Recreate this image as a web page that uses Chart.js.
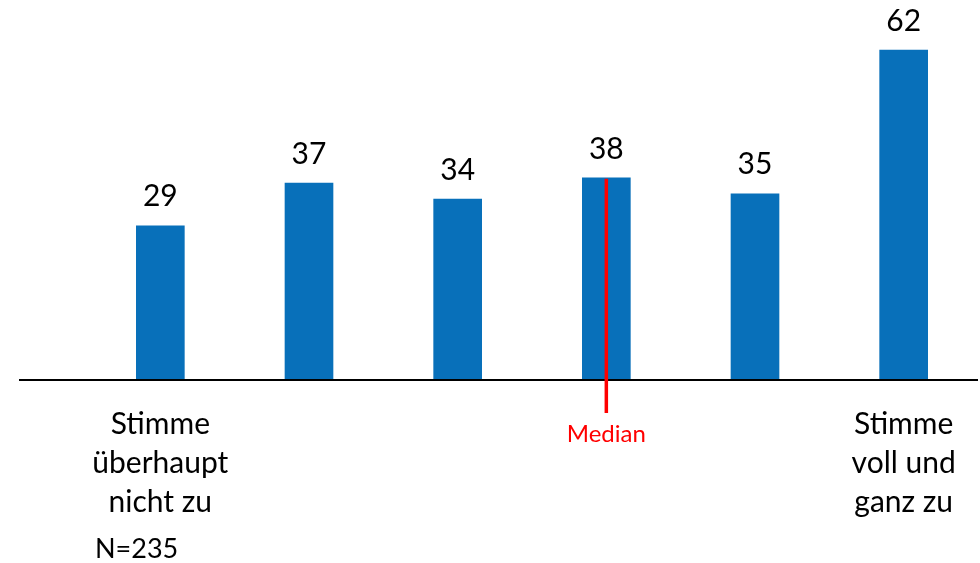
<!DOCTYPE html>
<html>
<head>
<meta charset="utf-8">
<script src="https://cdn.jsdelivr.net/npm/chart.js@4.4.1/dist/chart.umd.min.js"></script>
<style>
  html, body { margin: 0; padding: 0; background: #fff; }
  #wrap { width: 980px; height: 563px; position: relative; }
</style>
</head>
<body>
<div id="wrap"><canvas id="scaleChart" width="980" height="563"></canvas></div>
<script>
// answer scale 1..6, counts per step
const categories = ['1', '2', '3', '4', '5', '6'];
const counts = [29, 37, 34, 38, 35, 62];
// text under the axis, only the two ends are labelled
const categoryLabels = [
  ['Stimme', 'überhaupt', 'nicht zu'],
  [], [], [], [],
  ['Stimme', 'voll und', 'ganz zu']
];
const medianIndex = 3;
const medianLabel = 'Median';
const sampleLabel = 'N=235';

const FONT = 'Lato, "Open Sans", sans-serif';
const ctx = document.getElementById('scaleChart');

const annotations = {
  id: 'annotations',
  afterDatasetsDraw(chart) {
    const c = chart.ctx;
    const x = chart.scales.x;
    const y = chart.scales.y;
    const base = y.getPixelForValue(0);

    // baseline runs further left than the plot area
    c.save();
    c.strokeStyle = '#000';
    c.lineWidth = 2;
    c.beginPath();
    c.moveTo(19, base);
    c.lineTo(978, base);
    c.stroke();

    // value above each bar
    c.fillStyle = '#000';
    c.font = '30px ' + FONT;
    c.textAlign = 'center';
    c.textBaseline = 'middle';
    counts.forEach((v, i) => {
      c.fillText(String(v), x.getPixelForValue(i), y.getPixelForValue(v) - 29);
    });

    // end labels under the axis
    categoryLabels.forEach((lines, i) => {
      lines.forEach((t, k) => {
        c.fillText(t, x.getPixelForValue(i), 424 + k * 39);
      });
    });

    // median marker
    const mx = x.getPixelForValue(medianIndex);
    c.strokeStyle = '#FF0000';
    c.lineWidth = 3.5;
    c.beginPath();
    c.moveTo(mx, y.getPixelForValue(counts[medianIndex]) + 1);
    c.lineTo(mx, 413);
    c.stroke();
    c.fillStyle = '#FF0000';
    c.font = '24px ' + FONT;
    c.fillText(medianLabel, mx, 434);

    c.fillStyle = '#000';
    c.font = '27px ' + FONT;
    c.textAlign = 'left';
    c.fillText(sampleLabel, 95, 549);
    c.restore();
  }
};

new Chart(ctx, {
  type: 'bar',
  data: {
    labels: categories,
    datasets: [{
      data: counts,
      backgroundColor: '#0870BA',
      borderWidth: 0,
      barThickness: 48
    }]
  },
  options: {
    responsive: false,
    animation: false,
    layout: { padding: { left: 86, right: 2, top: 7.6, bottom: 183 } },
    plugins: { legend: { display: false }, tooltip: { enabled: false } },
    scales: {
      x: { display: false },
      y: { display: false, min: 0, max: 70 }
    }
  },
  plugins: [annotations]
});
</script>
</body>
</html>
